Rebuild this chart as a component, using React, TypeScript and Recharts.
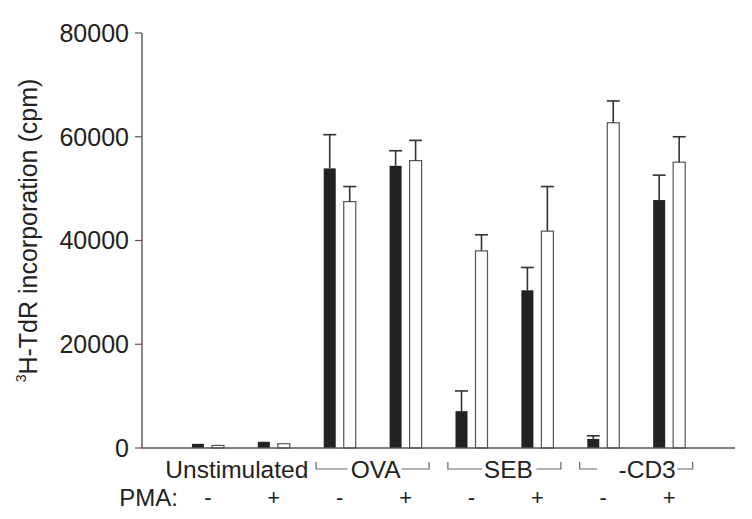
import React from "react";
import { BarChart, Bar, XAxis, YAxis } from "recharts";

const categories = ["Unst-", "Unst+", "OVA-", "OVA+", "SEB-", "SEB+", "CD3-", "CD3+"];
const pmaSigns = ["-", "+", "-", "+", "-", "+", "-", "+"];
const groupLabels = ["Unstimulated", "OVA", "SEB", "-CD3"];
const blackValues = [800, 1200, 53900, 54400, 7100, 30400, 1750, 47800];
const blackErrors = [0, 0, 6500, 2900, 3900, 4400, 600, 4800];
const whiteValues = [500, 830, 47500, 55400, 38000, 41800, 62700, 55100];
const whiteErrors = [0, 0, 2900, 3900, 3100, 8600, 4200, 4900];
const yTicks = [0, 20000, 40000, 60000, 80000];

const data = categories.map((cat, i) => ({
  cat,
  black: blackValues[i],
  blackErr: blackErrors[i],
  white: whiteValues[i],
  whiteErr: whiteErrors[i],
}));

const FONT = "'Liberation Sans', Arial, Helvetica, sans-serif";
const INK = "#222";
const LINE = "#555";
const BAND = 593 / 9;

// bracket layout per group: text offset from group centre, gap around text
const bracketStyle = [
  { bracket: false, textDx: -4, leftEnd: 0, rightStart: 0 },
  { bracket: true, textDx: 3, leftEnd: -25, rightStart: 29 },
  { bracket: true, textDx: 4, leftEnd: -22, rightStart: 32 },
  { bracket: true, textDx: 11, leftEnd: -39, rightStart: 41 },
];

const PmaTick = (props: any) => {
  const { x, y, payload } = props;
  const i = categories.indexOf(payload.value);
  const g = Math.floor(i / 2);
  const cx = x + BAND / 2;
  const st = bracketStyle[g];
  const lineY = y + 21;
  const half = 56.5;
  return (
    <g>
      <text x={x} y={y + 57} textAnchor="middle" fontFamily={FONT} fontSize={22} fill={INK}>
        {pmaSigns[i]}
      </text>
      {i % 2 === 0 && (
        <g>
          <text x={cx + st.textDx} y={y + 30} textAnchor="middle" fontFamily={FONT} fontSize={24.5} fill={INK}>
            {groupLabels[g]}
          </text>
          {st.bracket && (
            <g stroke="#666" strokeWidth={1.2} fill="none">
              <polyline points={`${cx - half},${lineY - 7} ${cx - half},${lineY} ${cx + st.leftEnd},${lineY}`} />
              <polyline points={`${cx + st.rightStart},${lineY} ${cx + half},${lineY} ${cx + half},${lineY - 7}`} />
            </g>
          )}
        </g>
      )}
      {i === 0 && (
        <text x={x - 30} y={y + 58} textAnchor="end" fontFamily={FONT} fontSize={24} fill={INK}>
          PMA:
        </text>
      )}
    </g>
  );
};

const YLabel = (props: any) => {
  const { viewBox } = props;
  const cx = 37;
  const cy = viewBox.y + viewBox.height / 2 - 10;
  return (
    <text
      x={cx}
      y={cy}
      transform={`rotate(-90, ${cx}, ${cy})`}
      textAnchor="middle"
      fontFamily={FONT}
      fontSize={25}
      fill={INK}
    >
      <tspan fontSize={14} dy={-11}>3</tspan>
      <tspan dy={11}>H-TdR incorporation (cpm)</tspan>
    </text>
  );
};

// bar with an upward-only error whisker, scaled from the bar's own pixel height
const makeBarShape = (errKey: string) => (props: any) => {
  const { x, y, width, height, fill, stroke, strokeWidth, payload, value } = props;
  const v = Array.isArray(value) ? value[1] - value[0] : value;
  const err = payload[errKey];
  const errPx = v > 0 ? (height * err) / v : 0;
  const cx = x + width / 2;
  return (
    <g>
      <rect x={x} y={y} width={width} height={height} fill={fill} stroke={stroke} strokeWidth={strokeWidth} />
      {err > 0 && (
        <g stroke="#333" strokeWidth={1.6}>
          <line x1={cx} y1={y} x2={cx} y2={y - errPx} />
          <line x1={cx - 6.5} y1={y - errPx} x2={cx + 6.5} y2={y - errPx} />
        </g>
      )}
    </g>
  );
};

const blackShape = makeBarShape("blackErr");
const whiteShape = makeBarShape("whiteErr");

export default function App() {
  return (
    <div style={{ position: "absolute", left: 0, top: 0, width: 752, height: 519, background: "#fff" }}>
      <BarChart
        width={752}
        height={519}
        data={data}
        margin={{ top: 33, right: 17, bottom: 0, left: 42 }}
        barSize={12}
        barGap={8}
      >
        <XAxis
          dataKey="cat"
          interval={0}
          padding={{ left: BAND / 2, right: BAND / 2 }}
          height={71}
          tickLine={false}
          tickSize={0}
          tickMargin={0}
          axisLine={{ stroke: LINE, strokeWidth: 1.4 }}
          tick={<PmaTick />}
        />
        <XAxis
          xAxisId="top"
          dataKey="cat"
          orientation="top"
          height={0}
          tick={false}
          tickLine={false}
          axisLine={{ stroke: LINE, strokeWidth: 1.4 }}
        />
        <YAxis
          domain={[0, 80000]}
          ticks={yTicks}
          width={100}
          tickSize={7}
          tickMargin={6}
          axisLine={{ stroke: LINE, strokeWidth: 1.4 }}
          tickLine={{ stroke: LINE, strokeWidth: 1.2 }}
          tick={{ fontFamily: FONT, fontSize: 25, fill: INK }}
          label={<YLabel />}
        />
        <YAxis
          yAxisId="right"
          orientation="right"
          width={0}
          domain={[0, 80000]}
          tick={false}
          tickLine={false}
          axisLine={{ stroke: LINE, strokeWidth: 1.4 }}
        />
        <Bar dataKey="black" fill="#222" shape={blackShape} isAnimationActive={false} />
        <Bar dataKey="white" fill="#fff" stroke="#555" strokeWidth={1.2} shape={whiteShape} isAnimationActive={false} />
      </BarChart>
    </div>
  );
}
